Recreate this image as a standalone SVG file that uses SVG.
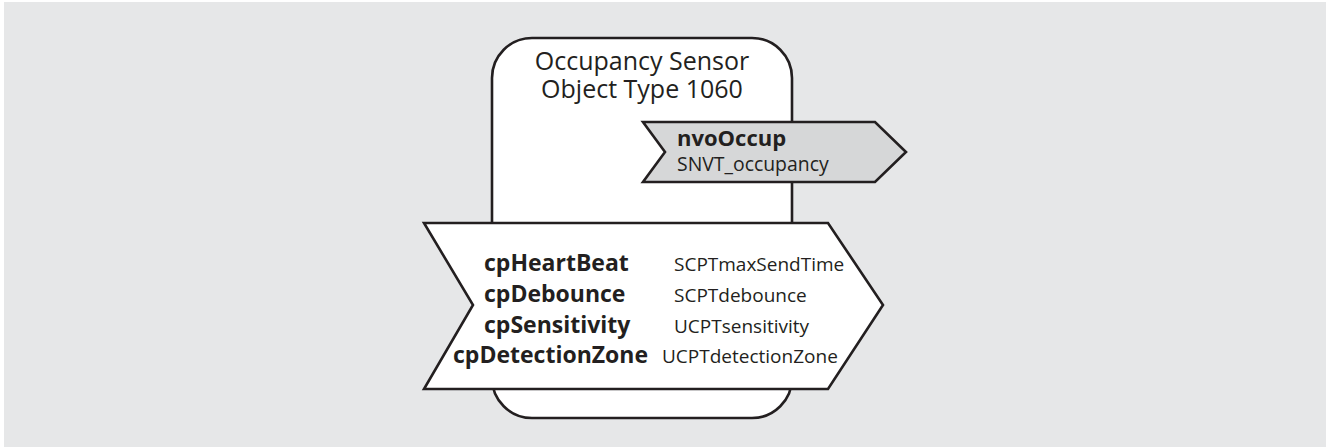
<svg xmlns="http://www.w3.org/2000/svg" width="1330" height="447" viewBox="0 0 1330 447">
  <style>
    .line { stroke: #231f20; stroke-width: 2.6; stroke-linejoin: miter; }
    .t { font-family: "Open Sans", "Liberation Sans", sans-serif; fill: #231f20; }
    .title { font-size: 25px; text-anchor: middle; }
    .name { font-size: 23px; font-weight: bold; }
    .type { font-size: 19px; }
  </style>
  <rect x="0" y="0" width="1330" height="447" fill="#ffffff"/>
  <rect x="4" y="2" width="1322" height="445" fill="#e6e7e8"/>

  <!-- functional block body -->
  <g id="block">
    <rect class="line" x="492" y="38" width="300" height="380" rx="40" ry="40" fill="#ffffff"/>
    <text class="t title" x="642" y="70">Occupancy Sensor</text>
    <text class="t title" x="642" y="98">Object Type 1060</text>
  </g>

  <!-- output network variable -->
  <g id="nvoOccup">
    <polygon class="line" points="643,122 875,122 906,152 875,182 643,182 665,152" fill="#d6d7d8"/>
    <text class="t" x="677" y="146" font-size="22" font-weight="bold">nvoOccup</text>
    <text class="t" x="677" y="171" font-size="19.4">SNVT_occupancy</text>
  </g>

  <!-- configuration properties -->
  <g id="config">
    <polygon class="line" points="424,223 828,223 883,305 828,389 424,389 473,305" fill="#ffffff"/>
    <text class="t name" x="484" y="271">cpHeartBeat</text>
    <text class="t name" x="484" y="302">cpDebounce</text>
    <text class="t name" x="484" y="333">cpSensitivity</text>
    <text class="t name" x="453" y="363">cpDetectionZone</text>
    <text class="t type" x="674" y="271">SCPTmaxSendTime</text>
    <text class="t type" x="674" y="302">SCPTdebounce</text>
    <text class="t type" x="674" y="333">UCPTsensitivity</text>
    <text class="t type" x="662" y="363">UCPTdetectionZone</text>
  </g>

  <g id="connectors"/>
</svg>
